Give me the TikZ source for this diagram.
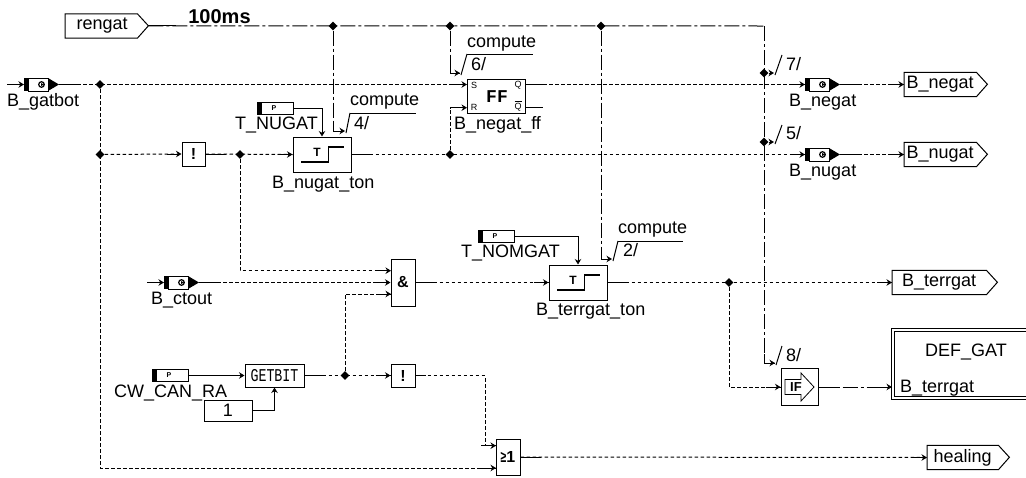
\documentclass[tikz,border=0pt]{standalone}
\usepackage{fontspec}
\setmainfont{Liberation Sans}
\newfontfamily\blockmono{Liberation Mono}
\usetikzlibrary{shapes.geometric, arrows.meta, calc}
\tikzset{
    % Node styles
    labeltext/.style={
        anchor=west,
        inner sep=0pt,
        font=\fontsize{18}{20}\selectfont
    },
    flagbody/.style={
        rectangle,
        anchor=west,
        inner sep=0pt,
        minimum height=24pt,
        font=\fontsize{18}{20}\selectfont
    },
    logicbox/.style={
        rectangle,
        draw,
        line width=1pt,
        inner sep=0pt,
        fill=white,
        font=\fontsize{16}{18}\selectfont\bfseries
    },
    iconbody/.style={
        rectangle,
        anchor=west,
        inner sep=0pt,
        minimum height=13pt
    },
    junction/.style={
        diamond,
        fill=black,
        inner sep=0pt,
        minimum size=9pt
    },
    % Arrow styles
    myarrow/.style={
        -{Stealth[length=5.5pt,width=6.5pt]},
        line width=1pt
    },
    solidline/.style={
        line width=1pt
    },
    dotline/.style={
        line width=1pt,
        dash pattern=on 3.5pt off 2.5pt
    },
    dashdotline/.style={
        line width=1pt,
        dash pattern=on 15pt off 3pt on 3pt off 3pt
    },
    tagline/.style={
        line width=1pt
    }
}
% Signal icon: name, left x, y
\newcommand{\msgicon}[3]{
    \node[iconbody, minimum width=35pt] (#1) at (#2,#3) {};
    \begin{scope}[shift={(#2,#3)}]
        \fill (0,-6.5) rectangle (4,6.5);
        \draw[line width=1pt] (4,-6.5) rectangle (24,6.5);
        \fill (24,-6.5) -- (35,0) -- (24,6.5) -- cycle;
        \draw[line width=1.2pt] (17.5,0) circle (2.8pt);
        \fill (17,-1.5) -- (20,0) -- (17,1.5) -- cycle;
    \end{scope}
}
% Parameter icon: name, left x, y
\newcommand{\paramicon}[3]{
    \node[iconbody, minimum width=36pt, minimum height=12pt] (#1) at (#2,#3) {};
    \begin{scope}[shift={(#2,#3)}]
        \draw[line width=1pt] (0,-6) rectangle (36,6);
        \fill (0,-6) rectangle (5,6);
        \node[inner sep=0pt, font=\fontsize{7}{7}\selectfont\bfseries] (#1 p) at (17,0) {P};
    \end{scope}
}
% Output flag: name, left x, y, body width, text
\newcommand{\outflag}[5]{
    \node[flagbody, minimum width=#4pt] (#1) at (#2,#3) {#5};
    \draw[line width=1pt] (#1.north west) -- (#1.north east) -- ++(11,12) coordinate (#1 tip) -- (#1.south east) -- (#1.south west) -- cycle;
}
% Timer block: name, centre x, y
\newcommand{\timerblock}[3]{
    \node[logicbox, minimum width=58pt, minimum height=35pt] (#1) at (#2,#3) {};
    \begin{scope}[shift={(#2,#3)}]
        \node[inner sep=0pt, font=\fontsize{12}{12}\selectfont\bfseries] (#1 t) at (-5,-2.5) {T};
        \draw[line width=1.6pt] (-21,7.5) -- (6.5,7.5) -- (6.5,-7.5) -- (21.5,-7.5);
    \end{scope}
}
% Slanted tag with optional overline: name, foot x, y, top x, y
\newcommand{\slanttag}[5]{
    \coordinate (#1) at (#2,#3);
    \draw[tagline] (#2+1,#3+2) -- (#4,#5);
}
% Solid stubs on dotted wires
\newcommand{\stubout}[1]{\draw[solidline] (#1) -- ++(20,0);}
\newcommand{\stubin}[1]{\draw[myarrow] ($(#1)+(-15,0)$) -- (#1);}
\newcommand{\tagarrow}[2]{
    \draw[dashdotline] (#1) |- (#2);
    \draw[myarrow] ($(#1 |- #2)+(0,-9)$) -- (#1 |- #2) -- (#2);
}
\begin{document}
\begin{tikzpicture}[x=1pt, y=-1pt]
    \useasboundingbox (0,0) rectangle (1026,477);

    % Rate input
    \outflag{rengat}{65}{26}{72}{\hspace*{2pt}rengat}
    \node[inner sep=0pt, font=\fontsize{20}{22}\selectfont\bfseries] (rate) at (219.5,17) {100ms};
    \coordinate (topcorner) at (764,26);

    % Input signals
    \coordinate (gatbotin) at (7,84.5);
    \msgicon{gatbot}{24}{84.5}
    \node[labeltext] (gatbotlabel) at (7,102) {B\_gatbot};
    \coordinate (ctoutin) at (147,282.5);
    \msgicon{ctout}{164}{282.5}
    \node[labeltext] (ctoutlabel) at (151,300) {B\_ctout};

    % Logic blocks
    \node[logicbox, minimum width=23pt, minimum height=24pt] (notone) at (193.5,154) {!};
    \node[logicbox, minimum width=24pt, minimum height=47pt] (andbox) at (403,282.5) {\&};
    \node[logicbox, minimum width=24pt, minimum height=23pt] (nottwo) at (403,375.5) {!};
    \node[logicbox, minimum width=24pt, minimum height=36pt] (orbox) at (508,457) {\scalebox{0.65}[1]{≥}1};
    \coordinate (andinone) at (391,270.7);
    \coordinate (andinthree) at (391,294);
    \coordinate (orinone) at (496,445.7);
    \coordinate (orintwo) at (496,468);

    % Timer blocks
    \timerblock{nugatton}{322}{154.5}
    \node[labeltext] (nugattonlabel) at (272,184) {B\_nugat\_ton};
    \paramicon{tnugat}{257}{108}
    \node[labeltext] (tnugatlabel) at (235,125) {T\_NUGAT};
    \timerblock{terrgatton}{578}{282.5}
    \node[labeltext] (terrgattonlabel) at (536,311) {B\_terrgat\_ton};
    \paramicon{tnomgat}{478}{236}
    \node[labeltext] (tnomgatlabel) at (461,253) {T\_NOMGAT};

    % Flip-flop
    \node[logicbox, minimum width=58pt, minimum height=34pt] (ffbox) at (496,96) {};
    \node[inner sep=0pt, font=\fontsize{18}{18}\blockmono\bfseries] (fftext) at (497,97) {FF};
    \node[inner sep=0pt, font=\fontsize{9}{9}\selectfont] (ffs) at (474,85.5) {S};
    \node[inner sep=0pt, font=\fontsize{9}{9}\selectfont] (ffr) at (474,107) {R};
    \node[inner sep=0pt, font=\fontsize{9}{9}\selectfont] (ffq) at (518,85.5) {Q};
    \node[inner sep=0pt, font=\fontsize{9}{9}\selectfont] (ffqbar) at (518,106) {$\overline{\mbox{Q}}$};
    \coordinate (ffinone) at (467,84.5);
    \coordinate (ffintwo) at (467,107.7);
    \coordinate (ffoutone) at (525,84.5);
    \coordinate (ffouttwo) at (525,107.7);
    \coordinate (ffstub) at (543,107.7);
    \node[labeltext] (fflabel) at (454,125) {B\_negat\_ff};

    % Bit extraction
    \paramicon{cwcan}{152}{375.5}
    \node[labeltext] (cwcanlabel) at (114,393) {CW\_CAN\_RA};
    \node[logicbox, minimum width=59pt, minimum height=23pt, font=\normalfont] (getbit) at (274.5,375.5) {\scalebox{0.74}[1]{\fontsize{18}{20}\blockmono GETBIT}};
    \node[logicbox, minimum width=48pt, minimum height=21pt, font=\fontsize{18}{20}\selectfont] (constone) at (228,410.5) {1};

    % Output signals
    \msgicon{negat}{805}{84.5}
    \node[labeltext] (negatlabel) at (789,102) {B\_negat};
    \msgicon{nugat}{805}{154.5}
    \node[labeltext] (nugatlabel) at (789,172) {B\_nugat};
    \outflag{outnegat}{904}{84.5}{72}{B\_negat}
    \outflag{outnugat}{904}{154.5}{72}{B\_nugat}
    \outflag{outterrgat}{892}{282.5}{94}{B\_terrgat}
    \outflag{outhealing}{927}{457.5}{71}{healing}

    % IF block
    \node[logicbox, minimum width=37pt, minimum height=37pt] (ifbox) at (799.5,387) {};
    \draw[line width=0.8pt] (785,379.5) -- (801,379.5) -- (801,373) -- (814,387) -- (801,401) -- (801,394.5) -- (785,394.5) -- cycle;
    \node[inner sep=0pt, font=\fontsize{13}{13}\selectfont\bfseries] (iftext) at (796,387) {IF};

    % Message box
    \node[rectangle, inner sep=0pt, minimum width=134pt, minimum height=70pt, anchor=north west] (defgat) at (892,329) {};
    \draw[double, double distance=1.6pt, line width=1pt] (1030,330) -- (893,330) -- (893,398) -- (1030,398);
    \node[inner sep=0pt, font=\fontsize{18}{20}\selectfont] (defgattext) at (966,352) {DEF\_GAT};
    \node[labeltext] (defgatport) at (900,388) {B\_terrgat};
    \coordinate (defgatin) at (892,387);

    % Junctions
    \node[junction] (jone) at (100,84.5) {};
    \node[junction] (jtwo) at (100,154.5) {};
    \node[junction] (jthree) at (240,154.5) {};
    \node[junction] (jfour) at (450,154.5) {};
    \node[junction] (jfive) at (345,375.5) {};
    \node[junction] (jsix) at (729,282.5) {};
    \node[junction] (jrateone) at (333,26) {};
    \node[junction] (jratetwo) at (450,26) {};
    \node[junction] (jratethree) at (601,26) {};
    \node[junction] (jrateseven) at (764,73) {};
    \node[junction] (jratefive) at (764,142) {};

    % Tags
    \slanttag{tagfour}{345}{131}{350}{113}
    \draw[tagline] (350,113) -- (416,113);
    \node[labeltext] (computefour) at (350,102) {compute};
    \node[labeltext] (numfour) at (354,123) {4/};
    \slanttag{tagsix}{460}{73}{467}{54}
    \draw[tagline] (467,54) -- (533,54);
    \node[labeltext] (computesix) at (467,44) {compute};
    \node[labeltext] (numsix) at (471,64) {6/};
    \slanttag{tagtwo}{612}{259}{618}{241}
    \draw[tagline] (618,241) -- (683,241);
    \node[labeltext] (computetwo) at (618,230) {compute};
    \node[labeltext] (numtwo) at (623,250) {2/};
    \slanttag{tagseven}{774}{73}{782}{55}
    \node[labeltext] (numseven) at (786,64) {7/};
    \slanttag{tagfive}{774}{142}{782}{125}
    \node[labeltext] (numfive) at (786,133) {5/};
    \slanttag{tageight}{775}{363}{782}{346}
    \node[labeltext] (numeight) at (786,355) {8/};

    % Rate wires
    \draw[dashdotline] (rengat tip) -- (topcorner);
    \draw[solidline] (rengat tip) -- ++(28,0);
    \tagarrow{topcorner}{tageight}
    \tagarrow{jrateone}{tagfour}
    \tagarrow{jratetwo}{tagsix}
    \tagarrow{jratethree}{tagtwo}
    \draw[myarrow] (jrateseven) -- (tagseven);
    \draw[myarrow] (jratefive) -- (tagfive);

    % Input wires
    \draw[myarrow] (gatbotin) -- (gatbot.west);
    \draw[myarrow] (ctoutin) -- (ctout.west);
    \draw[dotline] (gatbot.east) -- (ffinone);
    \stubout{gatbot.east}
    \stubin{ffinone}
    \draw[dotline] (jone) |- (orintwo);
    \stubin{orintwo}
    \draw[dotline] (jtwo) -- (notone.west);
    \stubin{notone.west}
    \draw[dotline] (notone.east) -- (nugatton.west);
    \stubout{notone.east}
    \stubin{nugatton.west}
    \draw[dotline] (jthree) |- (andinone);
    \stubin{andinone}
    \draw[dotline] (ctout.east) -- (andbox.west);
    \stubout{ctout.east}
    \stubin{andbox.west}
    \draw[dotline] (jfive) |- (andinthree);
    \stubin{andinthree}
    \draw[dotline] (andbox.east) -- (terrgatton.west);
    \stubout{andbox.east}
    \stubin{terrgatton.west}

    % Parameter wires
    \draw[myarrow] (tnugat.east) -| (nugatton.north);
    \draw[myarrow] (tnomgat.east) -| (terrgatton.north);
    \draw[myarrow] (cwcan.east) -- (getbit.west);
    \draw[myarrow] (constone.east) -| (getbit.south);

    % Flip-flop wires
    \draw[dotline] (jfour) |- (ffintwo);
    \stubin{ffintwo}
    \draw[solidline] (ffouttwo) -- (ffstub);
    \draw[dotline] (ffoutone) -- (negat.west);
    \stubout{ffoutone}
    \stubin{negat.west}
    \draw[dotline] (nugatton.east) -- (nugat.west);
    \stubout{nugatton.east}
    \stubin{nugat.west}

    % Output wires
    \draw[dotline] (negat.east) -- (outnegat.west);
    \stubout{negat.east}
    \stubin{outnegat.west}
    \draw[dotline] (nugat.east) -- (outnugat.west);
    \stubout{nugat.east}
    \stubin{outnugat.west}
    \draw[dotline] (terrgatton.east) -- (outterrgat.west);
    \stubout{terrgatton.east}
    \stubin{outterrgat.west}
    \draw[dotline] (jsix) |- (ifbox.west);
    \stubin{ifbox.west}
    \draw[dashdotline] (ifbox.east) -- (defgatin);
    \stubout{ifbox.east}
    \stubin{defgatin}

    % Bit and healing wires
    \draw[dotline] (getbit.east) -- (nottwo.west);
    \stubout{getbit.east}
    \stubin{nottwo.west}
    \draw[dotline] (nottwo.east) -| ($(orinone)+(-11,0)$) -- (orinone);
    \draw[solidline] (nottwo.east) -- ++(10,0);
    \stubin{orinone}
    \draw[dotline] (orbox.east) -- (outhealing.west);
    \stubout{orbox.east}
    \stubin{outhealing.west}
\end{tikzpicture}
\end{document}
